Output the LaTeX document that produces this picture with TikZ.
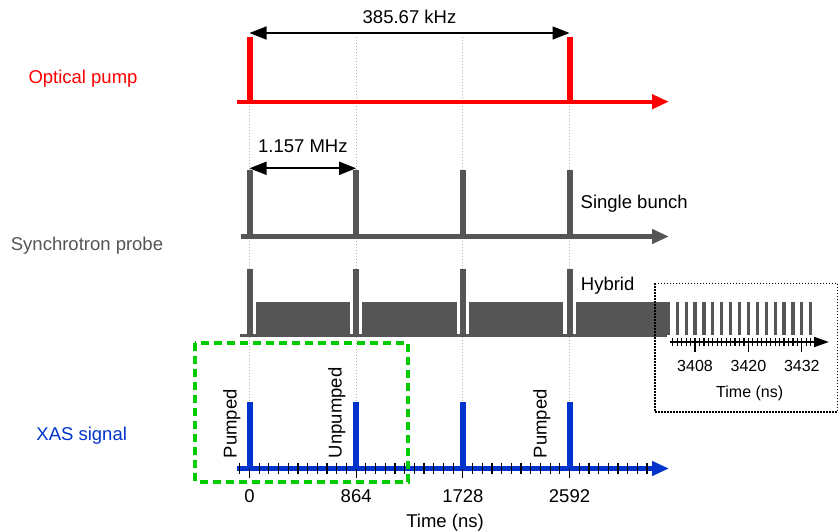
\documentclass[tikz,border=0pt]{standalone}
\usepackage{fontspec}
\setmainfont{Liberation Sans}
\usepackage{tikz}
\usetikzlibrary{arrows.meta}
\usepackage{xcolor}
\definecolor{pumpred}{RGB}{255,0,0}
\definecolor{probegray}{RGB}{85,85,85}
\definecolor{xasblue}{RGB}{0,51,204}
\definecolor{zoomgreen}{RGB}{0,204,0}

\begin{document}
\begin{tikzpicture}[x=1pt, y=-1pt,
    axisline/.style={line width=4.3pt, -{Triangle[length=17pt,width=14pt]}},
    pulse/.style={line width=6pt},
    guide/.style={black!30, line width=0.7pt, dash pattern=on 1.2pt off 1.8pt},
    span/.style={line width=1.7pt, {Triangle[length=17pt,width=13pt]}-{Triangle[length=17pt,width=13pt]}},
    tick/.style={black, line width=1.2pt},
    lbl/.style={font=\fontsize{18.5}{22}\selectfont, inner sep=0pt},
    smalllbl/.style={font=\fontsize{16}{19}\selectfont, inner sep=0pt}]
    \useasboundingbox (0,0) rectangle (840,532);
    \foreach \x in {249.5,356.2,462.8,569.5}
        \draw[guide] (\x,37) -- (\x,402);

    \node[lbl, pumpred, anchor=base] (pumplbl) at (83,84) {Optical pump};
    \coordinate (pumpL) at (237,101.7);
    \coordinate (pumpR) at (669,101.7);
    \foreach \x in {249.5,569.5}
        \draw[pulse, pumpred] (\x,37) -- (\x,101.7);
    \draw[axisline, pumpred] (pumpL) -- (pumpR);
    \coordinate (kHzA) at (249.5,33);
    \coordinate (kHzB) at (569.5,33);
    \draw[span] (kHzA) -- node[lbl, above=8pt] (kHz) {385.67 kHz} (kHzB);

    \node[lbl, probegray, anchor=base] (probelbl) at (87,250) {Synchrotron probe};
    \coordinate (singleL) at (241,236.5);
    \coordinate (singleR) at (669,236.5);
    \foreach \x in {249.5,356.2,462.8,569.5}
        \draw[pulse, probegray] (\x,170) -- (\x,236.5);
    \draw[axisline, probegray] (singleL) -- (singleR);
    \coordinate (MHzA) at (249.5,168.3);
    \coordinate (MHzB) at (356.2,168.3);
    \draw[span] (MHzA) -- node[lbl, above=15pt] (MHz) {1.157 MHz} (MHzB);
    \node[lbl, anchor=base west] (single) at (580.5,208) {Single bunch};

    \fill[probegray] (240,333.8) rectangle (666.7,336.7);
    \foreach \x in {249.5,356.2,462.8,569.5}
        \fill[probegray] (\x-3,269.3) rectangle (\x+3,336.7);
    \foreach \a/\b in {255.7/350,362.3/456.7,469/563.3,575.7/666.7}
        \fill[probegray] (\a,302) rectangle (\b,336.7);
    \node[lbl, anchor=base west] (hybrid) at (580.7,290.5) {Hybrid};

    \draw[line width=1.5pt, dash pattern=on 1.5pt off 1.5pt] (655,283.3) rectangle (837.5,412);
    \foreach \k in {-6,-4,...,26}
        \fill[probegray] ({695+4.45*\k-1.6},302) rectangle ({695+4.45*\k+1.6},335);
    \coordinate (zoomL) at (670,342);
    \coordinate (zoomR) at (829,342);
    \draw[line width=2pt, -{Triangle[length=15pt,width=10pt]}] (zoomL) -- (zoomR);
    \foreach \k in {-5,...,26}
        \draw[tick] ({695+4.45*\k},338) -- ({695+4.45*\k},346);
    \foreach \k/\lab in {0/3408,12/3420,24/3432} {
        \draw[tick] ({695+4.45*\k},338) -- ({695+4.45*\k},352);
        \node[smalllbl, anchor=base] (z\lab) at ({695+4.45*\k},371.7) {\lab};
    }
    \node[smalllbl, anchor=base] (zoomtime) at (749.7,397.3) {Time (ns)};

    \node[lbl, xasblue, anchor=base] (xaslbl) at (81.7,440.7) {XAS signal};
    \coordinate (xasL) at (237,468.5);
    \coordinate (xasR) at (669,468.5);
    \draw[axisline, xasblue] (xasL) -- (xasR);
    \foreach \k in {-1,...,41}
        \draw[tick] ({249.5+9.697*\k},462.5) -- ({249.5+9.697*\k},474);
    \foreach \i/\lab in {0/0,1/864,2/1728,3/2592} {
        \draw[tick] ({249.5+106.67*\i},462.5) -- ({249.5+106.67*\i},478);
        \draw[pulse, xasblue] ({249.5+106.67*\i},401.7) -- ({249.5+106.67*\i},468.5);
        \node[lbl, anchor=base] (n\lab) at ({249.5+106.67*\i},502) {\lab};
    }
    \draw[zoomgreen, line width=4pt, dash pattern=on 8pt off 5pt] (195,343) rectangle (408,481.5);
    \node[lbl, rotate=90, anchor=base west] (pumpedA) at (236.5,458.3) {Pumped};
    \node[lbl, rotate=90, anchor=base west] (unpumped) at (341.5,458.3) {Unpumped};
    \node[lbl, rotate=90, anchor=base west] (pumpedB) at (546.5,458.3) {Pumped};
    \node[lbl, anchor=base] (time) at (445,527.5) {Time (ns)};
\end{tikzpicture}
\end{document}
